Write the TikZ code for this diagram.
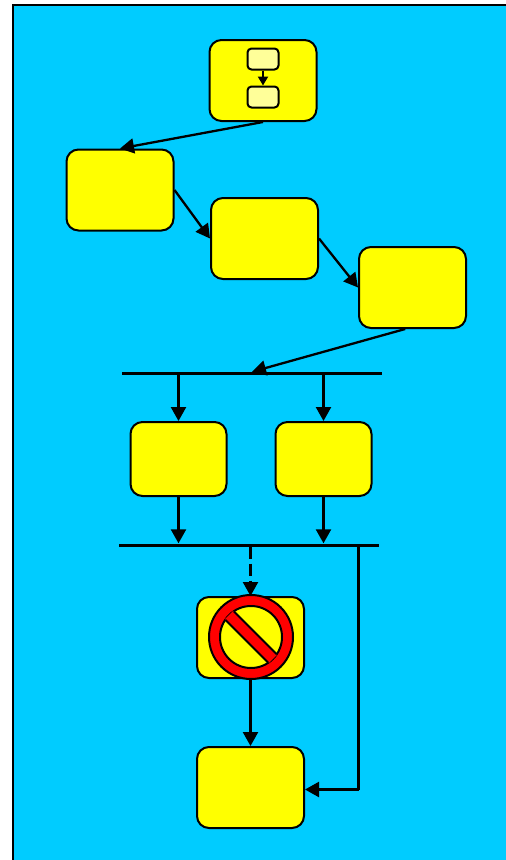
\documentclass[tikz,border=0pt]{standalone}
\usetikzlibrary{arrows.meta}

\definecolor{skyblue}{RGB}{0,204,255}
\definecolor{boxyellow}{RGB}{255,255,0}
\definecolor{paleyellow}{RGB}{255,255,153}
\definecolor{signred}{RGB}{255,0,0}

\begin{document}
\begin{tikzpicture}[x=1pt,y=-1pt]
	\tikzset{box/.style = {shape=rectangle, draw, line width=2pt, rounded corners=12pt, fill=boxyellow, inner sep=0pt, minimum width=107pt, minimum height=81pt}}
	\tikzset{minibox/.style = {shape=rectangle, draw, line width=2pt, rounded corners=4pt, fill=paleyellow, inner sep=0pt, minimum width=31pt, minimum height=21pt}}
	\tikzset{bar/.style = {shape=rectangle, fill=black, inner sep=0pt, minimum width=260pt, minimum height=3pt}}
	\tikzset{flow/.style = {line width=2.3pt, -{Triangle[length=14pt,width=15pt]}}}
	\tikzset{miniflow/.style = {line width=2pt, -{Triangle[length=9pt,width=10pt]}}}

	\useasboundingbox (0,0) rectangle (506,860);
	\begin{scope}
		\clip (0,0) rectangle (506,860);
		\draw[line width=2.5pt, fill=skyblue] (13,5) rectangle (530,890);
	\end{scope}

	\node[box] (Start) at (263,80.5) {};
	\node[minibox] (Start_1) at (263,59) {};
	\node[minibox] (Start_2) at (263,97) {};

	\node[box] (A) at (120,190) {};
	\node[box] (B) at (264.5,238.5) {};
	\node[box] (C) at (412.5,287.5) {};

	\node[bar] (Fork) at (252,373.5) {};
	\node[box, minimum width=96pt, minimum height=74pt] (D) at (178.5,459) {};
	\node[box, minimum width=96pt, minimum height=74pt] (E) at (323.5,459) {};
	\node[bar] (Join) at (249,545) {};

	\node[box] (F) at (250.5,637.5) {};
	\node[box] (G) at (250.5,787.5) {};
	\coordinate (Corner) at (358.5,789.5);

	\draw[miniflow] (Start_1)--(Start_2);

	\draw[flow] (Start.south)--(A.north);
	\draw[flow] (A.east)--(B.west);
	\draw[flow] (B.east)--(C.west);
	\draw[flow] (C.260)--(Fork.north);

	\draw[flow] (Fork.south -| D)--(D.north);
	\draw[flow] (Fork.south -| E)--(E.north);
	\draw[flow] (D.south)--(D.south |- Join.north);
	\draw[flow] (E.south)--(E.south |- Join.north);

	\draw[flow, dash pattern=on 12pt off 5pt] (Join.south -| F)--(F.north);
	\draw[flow] (F.south)--(G.north);
	\draw[line width=2.3pt] (Join.south -| Corner)--(Corner);
	\draw[flow] (Corner)--(Corner -| G.east);

	% no-entry sign
	\begin{scope}[shift={(251,637)}, rotate=-45]
		\draw[line width=2pt, fill=signred, even odd rule] (0,0) circle (42pt) (0,0) circle (31pt);
		\fill[signred] (-31,-6) rectangle (31,6);
		\draw[line width=2pt] (-30.4,-6)--(30.4,-6);
		\draw[line width=2pt] (-30.4,6)--(30.4,6);
	\end{scope}
\end{tikzpicture}
\end{document}
